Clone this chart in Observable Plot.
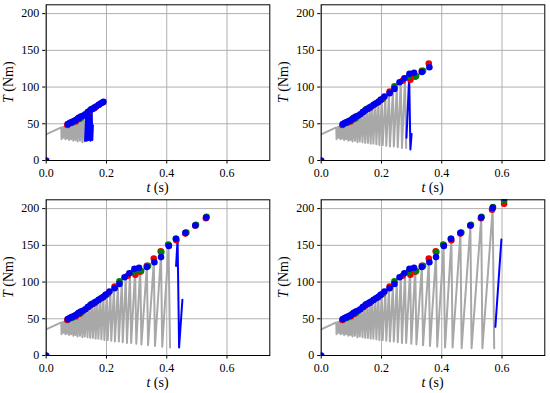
<!DOCTYPE html>
<html><head><meta charset="utf-8">
<script src="https://cdn.jsdelivr.net/npm/d3@7"></script>
<script src="https://cdn.jsdelivr.net/npm/@observablehq/plot@0.6"></script>
<style>
body{margin:0;background:#fff}
#c{position:relative;width:550px;height:393px;overflow:hidden}
.p{position:absolute}
</style>
</head><body><div id="c"></div>
<script>
// ---- data ----
const rampStartT = 0, rampStartV = 35.5;
const toothPeakT = [0.050,0.056,0.062,0.068,0.074,0.081,0.088,0.095,0.102,0.110,0.118,0.126,0.134,0.143,0.152,0.161,0.170,0.180,0.190,0.201,0.213,0.225,0.238,0.251,0.264,0.278,0.295,0.312,0.334,0.357,0.381,0.406,0.432,0.462,0.495,0.531,0.569];
const toothPeakV = [45,46,47,48.5,50,51.5,53,54.5,56,58,59.5,61.5,64,67,69.5,72,74.5,77.5,80.5,84,87.5,91,95.5,100,106,111,116,119,121,127,138,148,158,166,176,187,200];
const toothTroughT = [0.051,0.058,0.064,0.070,0.076,0.083,0.090,0.097,0.104,0.112,0.120,0.128,0.137,0.146,0.155,0.164,0.173,0.183,0.193,0.204,0.216,0.228,0.241,0.254,0.268,0.282,0.299,0.316,0.338,0.361,0.385,0.411,0.436,0.466,0.499,0.535,0.574];
const toothTroughV = [29,31,29,30,28,29,27,28,26,27,25,26,25,24,24,23,23,22,21,21,20,19,19,18,17,17,16,15,14,13,12,11,11,10,10,10,10];

const grayEnd = [0.129, 0.283, 0.415, 0.576];
const dotEnd = [0.195, 0.365, 0.535, 0.62];

const blueLineT = [
  [0.129,0.133,0.135,0.139,0.141,0.145,0.147,0.151,0.153,0.155],
  [0.283,0.292,0.296,0.300],
  [0.431,0.436,0.441,0.452],
  [0.578,0.598]
];
const blueLineV = [
  [27,64,27,66,28,68,27,70,28,48],
  [31,115,15,36],
  [122,158,11,76],
  [39,158]
];

const blueDotT = [0,0.072,0.078,0.083,0.089,0.094,0.100,0.108,0.115,0.122,0.130,0.138,0.146,0.153,0.160,0.166,0.174,0.182,0.190,0.197,0.210,0.227,0.243,0.260,0.276,0.293,0.308,0.334,0.359,0.381,0.407,0.431,0.462,0.495,0.531,0.569,0.608];
const blueDotV = [0,49.5,51,52,53,54,55.5,58,60,61,63,66,68.5,70,72,73.5,76,78,80,82.5,87,91.5,97.5,106.5,112,118,119.5,120.5,127,134,149,159,167,177,188,201,215];
const redDotT = [0.070,0.098,0.110,0.140,0.160,0.188,0.205,0.227,0.270,0.296,0.312,0.334,0.357,0.380,0.407,0.432,0.462,0.495,0.530,0.567,0.607];
const redDotV = [48.5,53,56.5,66,71,79,84.5,94,108.5,110,114,122,132,142,150,157,166,177,187,198.5,206.5];
const greenDotT = [0.085,0.105,0.115,0.150,0.175,0.200,0.243,0.290,0.315,0.338,0.382,0.405,0.430,0.465,0.497,0.532,0.570,0.607];
const greenDotV = [51,57,58,70,76,83,101,114,115,122,141,151,159,167.5,178,189,202,211];

const xTicks = [0, 0.2, 0.4, 0.6];
const yTicks = [0, 50, 100, 150, 200];
const xLabel = ["t", " (s)"];
const yLabel = ["T", " (Nm)"];

// ---- build tables ----
const grayAll = [{t: rampStartT, v: rampStartV}];
toothPeakT.forEach((t, i) => {
  grayAll.push({t, v: toothPeakV[i]});
  grayAll.push({t: toothTroughT[i], v: toothTroughV[i]});
});
const mk = (T, V) => T.map((t, i) => ({t, v: V[i]}));
const blueDots = mk(blueDotT, blueDotV);
const redDots = mk(redDotT, redDotV);
const greenDots = mk(greenDotT, greenDotV);

const FONT = "Liberation Serif";
const W = 275, H = 196;
const ML = 45.7, MR = 5.7, MT = 4.3, MB = 36;
const pos = [[0,0],[275,0],[0,195],[275,195]];
const c = document.getElementById("c");

for (let p = 0; p < 4; p++) {
  const gray = grayAll.filter(d => d.t <= grayEnd[p]);
  const blue = mk(blueLineT[p], blueLineV[p]);
  const dotsFilter = arr => arr.filter(d => d.t <= dotEnd[p]);
  const svg = Plot.plot({
    width: W, height: H,
    marginLeft: ML, marginRight: MR, marginTop: MT, marginBottom: MB,
    x: {domain: [0, 0.742], ticks: xTicks, tickFormat: d => d.toFixed(1), label: null, tickSize: 3.5, tickPadding: 4.5},
    y: {domain: [0, 212], ticks: yTicks, label: null, tickSize: 3.5, tickPadding: 3.5},
    marks: [
      Plot.gridX(xTicks, {stroke: "#b0b0b0", strokeOpacity: 1, strokeWidth: 1}),
      Plot.gridY(yTicks, {stroke: "#b0b0b0", strokeOpacity: 1, strokeWidth: 1}),
      Plot.line(gray, {x: "t", y: "v", stroke: "#a8a8a8", strokeWidth: 2, clip: true}),
      Plot.line(blue, {x: "t", y: "v", stroke: "#0000ff", strokeWidth: 2, clip: true}),
      Plot.dot(dotsFilter(redDots), {x: "t", y: "v", r: 3.3, fill: "#ee0000", stroke: "none", clip: true}),
      Plot.dot(dotsFilter(greenDots), {x: "t", y: "v", r: 3.3, fill: "#008000", stroke: "none", clip: true}),
      Plot.dot(dotsFilter(blueDots), {x: "t", y: "v", r: 3.3, fill: "#0000ee", stroke: "none", clip: true}),
      Plot.frame({stroke: "black", strokeWidth: 1})
    ]
  });
  const s = d3.select(svg);
  s.attr("font-family", FONT).attr("font-size", 12);
  s.selectAll("text").attr("font-family", FONT);
  // x label
  const xl = s.append("text").attr("x", ML + (W - ML - MR) / 2).attr("y", 191.5)
    .attr("text-anchor", "middle").attr("font-size", 14).attr("fill", "black").attr("font-family", FONT);
  xl.append("tspan").attr("font-style", "italic").text(xLabel[0]);
  xl.append("tspan").text(xLabel[1]);
  // y label
  const yc = MT + (H - MT - MB) / 2;
  const yl = s.append("text").attr("transform", `translate(13,${yc}) rotate(-90)`)
    .attr("text-anchor", "middle").attr("font-size", 14).attr("fill", "black").attr("font-family", FONT);
  yl.append("tspan").attr("font-style", "italic").text(yLabel[0]);
  yl.append("tspan").text(yLabel[1]);

  const div = document.createElement("div");
  div.className = "p";
  div.style.left = pos[p][0] + "px";
  div.style.top = pos[p][1] + "px";
  div.appendChild(svg);
  c.appendChild(div);
}
</script>
</body></html>
